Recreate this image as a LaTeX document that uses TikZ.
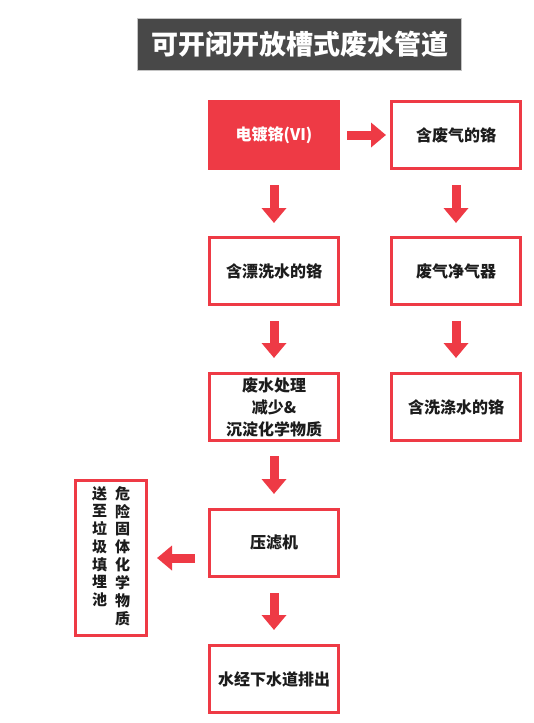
\documentclass[tikz,border=0pt]{standalone}
\usepackage{fontspec}
\setmainfont{Noto Sans CJK SC}
\usepackage{tikz}
\usetikzlibrary{positioning,arrows.meta}
\definecolor{accentred}{HTML}{EE3A45}
\definecolor{titlegray}{HTML}{484848}
\definecolor{framegray}{HTML}{C4C4C4}
\definecolor{inkblack}{HTML}{1C1C1C}

\begin{document}
\begin{tikzpicture}[
      x=1pt, y=-1pt,
      every node/.style={font=\bfseries\fontsize{16pt}{22pt}\selectfont, text=inkblack},
      stepbox/.style={
        draw=accentred, line width=3pt,
        minimum width=129pt, minimum height=67pt,
        inner sep=2pt,
        align=center
      },
      titlebar/.style={
        fill=titlegray, draw=framegray, thin,
        minimum width=324pt, minimum height=52pt,
        text=white,
        font=\bfseries\fontsize{27pt}{30pt}\selectfont
      },
      flowarrow/.style={
        draw=accentred, line width=9pt,
        -{Triangle[length=15pt,width=24pt]}
      }
    ]
      \useasboundingbox (0,0) rectangle (534,723);
      \node[titlebar] (title) at (299.5,44) {可开闭开放槽式废水管道};
      \node[stepbox, fill=accentred, text=white] (plating) at (274,135) {电镀铬(VI)};
      \node[stepbox, right=50pt of plating] (fume) {含废气的铬};
      \node[stepbox, below=66pt of plating] (rinse) {含漂洗水的铬};
      \node[stepbox, below=66pt of fume] (scrubber) {废气净气器};
      \node[stepbox, below=66pt of rinse] (treat) {废水处理\\减少\&\\沉淀化学物质};
      \node[stepbox, below=66pt of scrubber] (wash) {含洗涤水的铬};
      \node[stepbox, below=66pt of treat] (press) {压滤机};
      \node[stepbox, below=66pt of press] (sewer) {水经下水道排出};
      \node[stepbox, minimum width=71pt, minimum height=155pt,
            left=60pt of press, yshift=-15pt] (landfill) {%
        {\fontsize{15pt}{17pt}\selectfont
        \begin{tabular}[t]{@{}c@{}}送\\至\\垃\\圾\\填\\埋\\池\end{tabular}\hspace{8pt}%
        \begin{tabular}[t]{@{}c@{}}危\\险\\固\\体\\化\\学\\物\\质\end{tabular}}};
      % arrows
      \draw[flowarrow, shorten <=7pt, shorten >=4pt] (plating) -- (fume);
      \draw[flowarrow, shorten <=15pt, shorten >=13pt] (plating) -- (rinse);
      \draw[flowarrow, shorten <=15pt, shorten >=13pt] (fume) -- (scrubber);
      \draw[flowarrow, shorten <=15pt, shorten >=14pt] (rinse) -- (treat);
      \draw[flowarrow, shorten <=15pt, shorten >=14pt] (scrubber) -- (wash);
      \draw[flowarrow, shorten <=14pt, shorten >=14pt] (treat) -- (press);
      \draw[flowarrow, shorten <=15pt, shorten >=14pt] (press) -- (sewer);
      \draw[flowarrow, shorten <=13pt, shorten >=9pt] (press.west |- landfill.east) -- (landfill.east);
    \end{tikzpicture}
\end{document}
